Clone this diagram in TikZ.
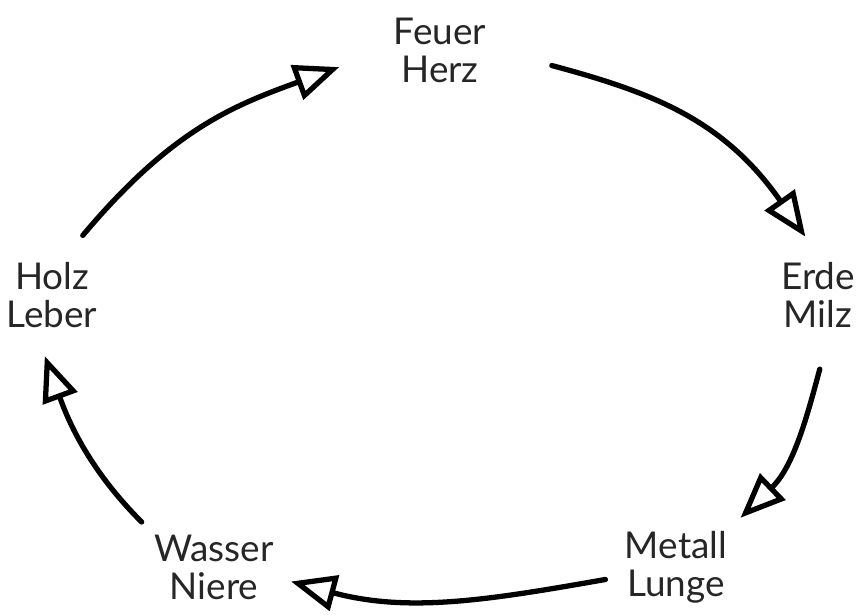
\documentclass[tikz,border=0pt]{standalone}
\usepackage{fontspec}
\setmainfont{Lato}
\usepackage{tikz}
\usetikzlibrary{arrows.meta, positioning}

\begin{document}
\begin{tikzpicture}[
  element/.style={font=\fontsize{10.5}{10.8}\selectfont, text=black!85, align=center, inner sep=2pt},
  cycle/.style={line width=1.5pt, line cap=round, line join=round,
    -{Triangle[open, length=0.45cm, width=0.36cm]}}
]
  \useasboundingbox (0,0) rectangle (8.64,6.14);
  % Elements and organs
  \node[element] (feuer) at (4.40, 5.64) {Feuer\\Herz};
  \node[element] (erde) at (8.18, 3.19) {Erde\\Milz};
  \node[element] (metall) at (6.76, 0.47) {Metall\\Lunge};
  \node[element] (wasser) at (2.14, 0.47) {Wasser\\Niere};
  \node[element] (holz) at (0.52, 3.19) {Holz\\Leber};
  % Generating cycle
  \draw[cycle, shorten <=0.25cm, shorten >=0.5cm] (holz.70) to[out=50, in=200, looseness=1.1] (feuer.west);
  \draw[cycle, shorten <=0.6cm, shorten >=0.22cm] (feuer.east) to[out=-15, in=125, looseness=1.1] (erde.north);
  \draw[cycle, shorten <=0.35cm, shorten >=0.08cm] (erde.-75) to[out=255, in=44] (metall.north east);
  \draw[cycle, shorten <=0.12cm, shorten >=0.1cm] (metall.190) to[out=190, in=-15] (wasser.-10);
  \draw[cycle, shorten <=0.07cm, shorten >=0.22cm] (wasser.north west) to[out=135, in=-70] (holz.250);
\end{tikzpicture}
\end{document}
